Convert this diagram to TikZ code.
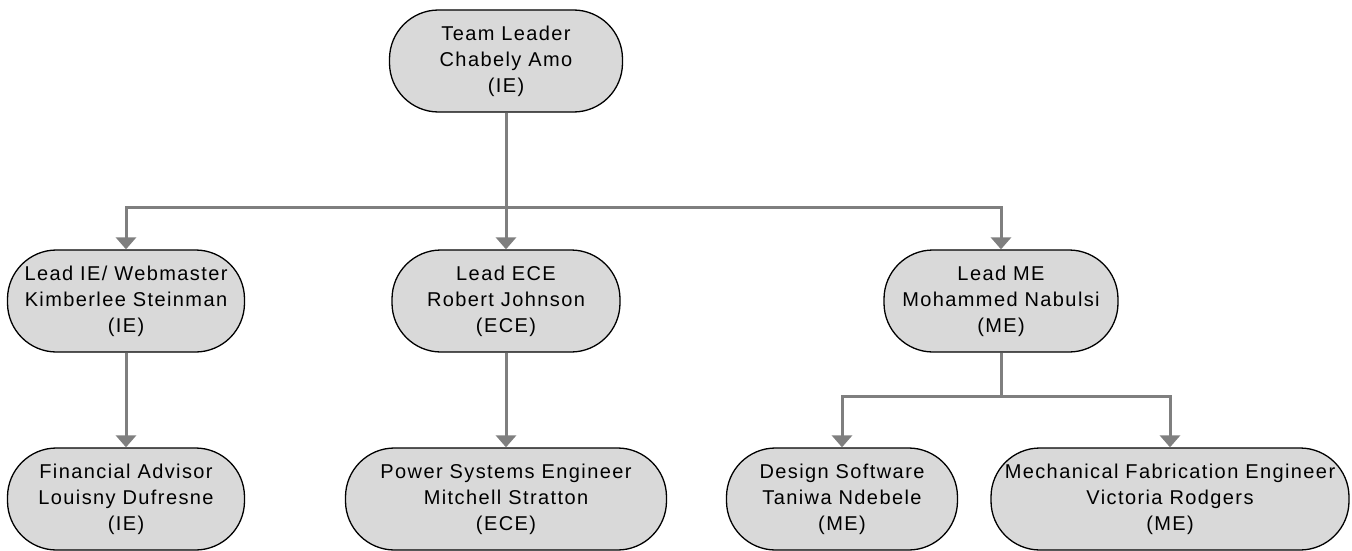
\documentclass[tikz,border=0pt]{standalone}
\usepackage{fontspec}
\setmainfont[LetterSpace=7]{Liberation Sans}
\usetikzlibrary{arrows.meta}
\definecolor{boxfill}{HTML}{D9D9D9}
\definecolor{linegray}{HTML}{7F7F7F}
\tikzset{
  member/.style={draw=black, line width=1.3pt, fill=boxfill, rounded corners=49pt,
    minimum height=102pt, align=center, inner sep=0pt,
    font=\fontsize{20}{26}\selectfont},
  link/.style={draw=linegray, line width=3pt, -{Triangle[width=20pt,length=12pt]}},
  plain/.style={draw=linegray, line width=3pt}
}
\begin{document}
\begin{tikzpicture}[x=1pt,y=-1pt]
\useasboundingbox (0,0) rectangle (1352,551);
\node[member, minimum width=233pt] (tl) at (506,61) {Team Leader\\Chabely Amo\\(IE)};
\node[member, minimum width=237pt] (ie) at (126,301) {Lead IE/ Webmaster\\Kimberlee Steinman\\(IE)};
\node[member, minimum width=228pt] (ece) at (506,301) {Lead ECE\\Robert Johnson\\(ECE)};
\node[member, minimum width=234pt] (me) at (1001,301) {Lead ME\\Mohammed Nabulsi\\(ME)};
\node[member, minimum width=237pt] (fa) at (126,499) {Financial Advisor\\Louisny Dufresne\\(IE)};
\node[member, minimum width=321pt] (ps) at (506,499) {Power Systems Engineer\\Mitchell Stratton\\(ECE)};
\node[member, minimum width=231pt] (ds) at (842,499) {Design Software\\Taniwa Ndebele\\(ME)};
\node[member, minimum width=358pt] (mf) at (1170,499) {Mechanical Fabrication Engineer\\Victoria Rodgers\\(ME)};
\coordinate (j1) at (506,207);
\coordinate (j2) at (1001,396);
\draw[plain] (tl.south) -- (j1);
\draw[link] (j1) -| (ie.north);
\draw[link] (j1) -- (ece.north);
\draw[link] (j1) -| (me.north);
\draw[link] (ie.south) -- (fa.north);
\draw[link] (ece.south) -- (ps.north);
\draw[plain] (me.south) -- (j2);
\draw[link] (j2) -| (ds.north);
\draw[link] (j2) -| (mf.north);
\end{tikzpicture}
\end{document}
